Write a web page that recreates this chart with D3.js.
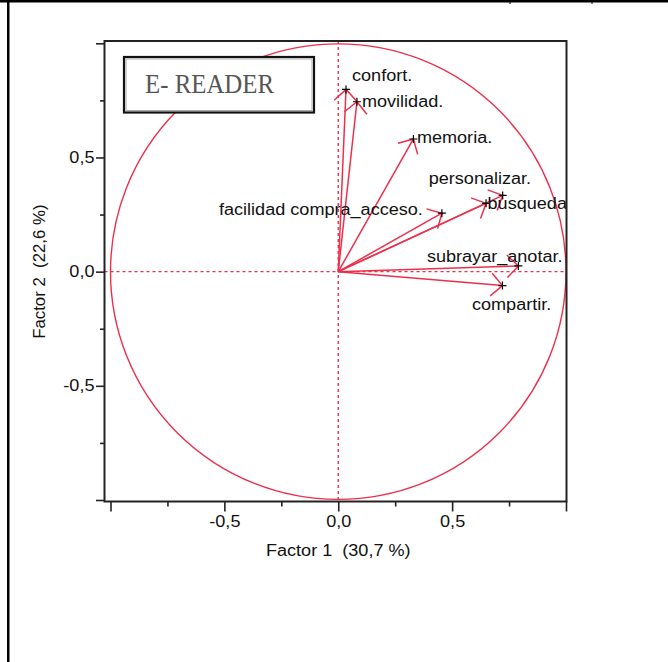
<!DOCTYPE html>
<html>
<head>
<meta charset="utf-8">
<script src="https://cdn.jsdelivr.net/npm/d3@7"></script>
<style>
  html, body { margin: 0; padding: 0; background: #fff; }
  svg { display: block; }
  text { white-space: pre; }
</style>
</head>
<body>
<svg id="canvas" width="668" height="662"></svg>
<script>
// variables of the circle of correlations (Factor 1 x Factor 2)
let variables = ["confort.", "movilidad.", "memoria.", "personalizar.", "busqueda",
  "facilidad compra_acceso.", "subrayar_anotar.", "compartir."];
let factor1 = [0.034, 0.082, 0.330, 0.722, 0.649, 0.455, 0.791, 0.721];
let factor2 = [0.798, 0.744, 0.581, 0.334, 0.299, 0.256, 0.025, -0.061];

let majorTicks = [-1, -0.5, 0, 0.5, 1];
let minorTicks = [-0.75, -0.25, 0.25, 0.75];
let labelledTicks = [-0.5, 0, 0.5];

let title = "E- READER";
let xTitle = "Factor 1  (30,7 %)";
let yTitle = "Factor 2  (22,6 %)";

let red = "#ee2f4b";
let stretch = 1.13; // text in the picture is a bit wider than Arial

let canvas = d3.select("#canvas");

let x = d3.scaleLinear().domain([-1, 1]).range([110.5, 566]);
let y = d3.scaleLinear().domain([-1, 1]).range([500, 43.3]);

let frame = { left: 104.5, top: 41, right: 566.5, bottom: 501.5 };

let fmt = d3.formatLocale({ decimal: ",", thousands: ".", grouping: [3], currency: ["", ""], minus: "-" }).format(".1f");

// page border bits
canvas.append("rect").attr("x", 0).attr("y", 0).attr("width", 668).attr("height", 2.5).attr("fill", "#000");
canvas.append("rect").attr("x", 7).attr("y", 0).attr("width", 2.5).attr("height", 662).attr("fill", "#000");
[510, 592].forEach((px) => {
  canvas.append("line").attr("x1", px).attr("x2", px).attr("y1", 0).attr("y2", 4)
    .attr("stroke", "#000").attr("stroke-width", 1);
});

canvas.append("defs").append("clipPath").attr("id", "plotclip")
  .append("rect")
  .attr("x", frame.left).attr("y", frame.top)
  .attr("width", frame.right - frame.left).attr("height", frame.bottom - frame.top);

let plot = canvas.append("g").attr("clip-path", "url(#plotclip)");

// unit circle
plot.append("circle")
  .attr("cx", x(0)).attr("cy", y(0))
  .attr("r", x(1) - x(0))
  .attr("fill", "none").attr("stroke", red).attr("stroke-width", 1.4);

// dotted zero lines
plot.append("line")
  .attr("x1", x(0)).attr("x2", x(0)).attr("y1", frame.top).attr("y2", frame.bottom)
  .attr("stroke", red).attr("stroke-width", 1.4).attr("stroke-dasharray", "3,3");
plot.append("line")
  .attr("x1", frame.left).attr("x2", frame.right).attr("y1", y(0)).attr("y2", y(0))
  .attr("stroke", red).attr("stroke-width", 1.4).attr("stroke-dasharray", "3,3");

// title box
plot.append("rect").attr("x", 124).attr("y", 57).attr("width", 190).attr("height", 55.5)
  .attr("fill", "#fff").attr("stroke", "#111").attr("stroke-width", 2.2);
plot.append("rect").attr("x", 126).attr("y", 59).attr("width", 186).attr("height", 51.5)
  .attr("fill", "none").attr("stroke", "#aaa").attr("stroke-width", 1);
plot.append("text")
  .attr("transform", "translate(145,92.5) scale(0.92,1)")
  .attr("font-family", "'Liberation Serif', serif")
  .attr("font-size", 27)
  .attr("fill", "#555")
  .text(title);

let data = variables.map((name, i) => ({ name: name, f1: factor1[i], f2: factor2[i] }));

// label placement relative to the point
let labelPos = {
  "confort.": [6, -8.5, "start"],
  "movilidad.": [5, 5, "start"],
  "memoria.": [3.5, 4.5, "start"],
  "personalizar.": [-74, -11.5, "start"],
  "busqueda": [1.5, 6, "start"],
  "facilidad compra_acceso.": [-19, 1.8, "end"],
  "subrayar_anotar.": [-91.5, -4.3, "start"],
  "compartir.": [-30.5, 24, "start"]
};

let ox = x(0), oy = y(0);
let headLen = 16, headAngle = Math.PI / 4;

data.forEach((d) => {
  let px = x(d.f1), py = y(d.f2);
  plot.append("line")
    .attr("x1", ox).attr("y1", oy).attr("x2", px).attr("y2", py)
    .attr("stroke", red).attr("stroke-width", 1.5);
  let back = Math.atan2(py - oy, px - ox) + Math.PI;
  let b1 = [px + headLen * Math.cos(back - headAngle), py + headLen * Math.sin(back - headAngle)];
  let b2 = [px + headLen * Math.cos(back + headAngle), py + headLen * Math.sin(back + headAngle)];
  plot.append("path")
    .attr("d", "M" + b1 + "L" + px + "," + py + "L" + b2)
    .attr("fill", "none").attr("stroke", red).attr("stroke-width", 1.5);
  // plus marker
  plot.append("path")
    .attr("d", "M" + (px - 4) + "," + py + "h8M" + px + "," + (py - 4) + "v8")
    .attr("stroke", "#000").attr("stroke-width", 1.2);
  let lp = labelPos[d.name];
  plot.append("text")
    .attr("transform", "translate(" + (px + lp[0]) + "," + (py + lp[1]) + ") scale(" + stretch + ",1)")
    .attr("text-anchor", lp[2])
    .attr("font-family", "'Liberation Sans', Arial, sans-serif")
    .attr("font-size", 16)
    .attr("fill", "#111")
    .text(d.name);
});

// frame
canvas.append("rect")
  .attr("x", frame.left).attr("y", frame.top)
  .attr("width", frame.right - frame.left).attr("height", frame.bottom - frame.top)
  .attr("fill", "none").attr("stroke", "#222").attr("stroke-width", 2);

// axes
let styleAxis = (g) => {
  g.select(".domain").remove();
  g.selectAll("line").attr("stroke", "#222").attr("stroke-width", 1.6);
  g.selectAll("text")
    .attr("font-family", "'Liberation Sans', Arial, sans-serif")
    .attr("font-size", 16)
    .attr("fill", "#111");
};

let tickText = (v) => (labelledTicks.includes(v) ? fmt(v) : "");

let xAxis = canvas.append("g").attr("transform", "translate(0," + frame.bottom + ")")
  .call(d3.axisBottom(x).tickValues(majorTicks).tickSize(10).tickPadding(4).tickFormat(tickText));
styleAxis(xAxis);
xAxis.selectAll("text").attr("transform", "scale(" + stretch + ",1)");
canvas.append("g").attr("transform", "translate(0," + frame.bottom + ")")
  .call(d3.axisBottom(x).tickValues(minorTicks).tickSize(5).tickFormat(""))
  .call(styleAxis);

let yAxis = canvas.append("g").attr("transform", "translate(" + frame.left + ",0)")
  .call(d3.axisLeft(y).tickValues(majorTicks).tickSize(8.5).tickPadding(1.5).tickFormat(tickText));
styleAxis(yAxis);
yAxis.selectAll("text").each(function () {
  let t = d3.select(this);
  let tx = +t.attr("x");
  t.attr("x", 0).attr("transform", "translate(" + tx + ",0) scale(" + stretch + ",1)");
});
canvas.append("g").attr("transform", "translate(" + frame.left + ",0)")
  .call(d3.axisLeft(y).tickValues(minorTicks).tickSize(4.5).tickFormat(""))
  .call(styleAxis);

// axis titles
canvas.append("text")
  .attr("transform", "translate(" + x(0) + ",556) scale(" + stretch + ",1)")
  .attr("text-anchor", "middle")
  .attr("font-family", "'Liberation Sans', Arial, sans-serif")
  .attr("font-size", 16)
  .attr("fill", "#111")
  .text(xTitle);

canvas.append("text")
  .attr("transform", "translate(45," + y(0) + ") rotate(-90) scale(1.05,1)")
  .attr("text-anchor", "middle")
  .attr("font-family", "'Liberation Sans', Arial, sans-serif")
  .attr("font-size", 16)
  .attr("fill", "#111")
  .text(yTitle);
</script>
</body>
</html>
